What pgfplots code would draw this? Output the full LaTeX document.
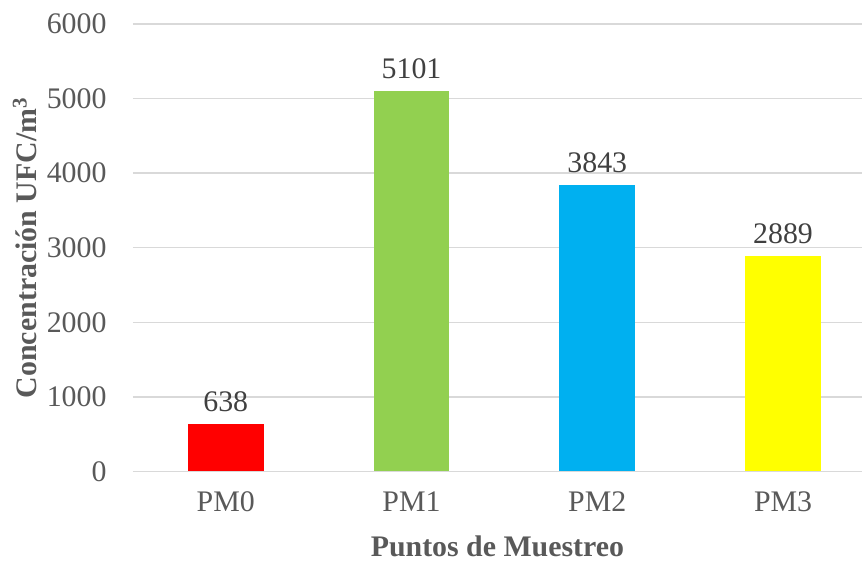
\documentclass[border=0pt]{standalone}
\usepackage{pgfplots}
\pgfplotsset{compat=1.18}
\usepackage{fontspec}
\setmainfont{Liberation Serif}
\definecolor{gridgray}{HTML}{D9D9D9}
\definecolor{ticktext}{HTML}{595959}
\definecolor{valtext}{HTML}{404040}
\definecolor{cRed}{HTML}{FF0000}
\definecolor{cGreen}{HTML}{92D050}
\definecolor{cBlue}{HTML}{00B0F0}
\definecolor{cYellow}{HTML}{FFFF00}
\begin{document}
\fontsize{15}{18}\selectfont
\begin{tikzpicture}
\begin{axis}[
  at={(0,0)}, anchor=south west,
  scale only axis,
  width=365bp, height=224bp,
  xmin=-0.5, xmax=3.425,
  ymin=0, ymax=6000,
  ytick={0,1000,...,6000},
  xtick={0,1,2,3},
  xticklabels={PM0,PM1,PM2,PM3},
  axis line style={draw=none},
  axis x line*=bottom,
  axis y line*=left,
  major tick length=0pt,
  ymajorgrids,
  grid style={gridgray, line width=0.75bp},
  /pgf/number format/assume math mode=true,
  /pgf/number format/set thousands separator={},
  tick label style={font=\fontsize{15}{18}\selectfont, text=ticktext},
  yticklabel style={xshift=-8bp},
  xticklabel style={yshift=-5bp},
  ylabel={\textbf{Concentración UFC/m\textsuperscript{3}}},
  xlabel={\textbf{Puntos de Muestreo}},
  label style={font=\fontsize{15}{18}\selectfont, text=ticktext},
  ylabel style={at={(rel axis cs:0,0.5)}, anchor=center, yshift=54bp},
  xlabel style={yshift=-2bp},
  ybar, bar width=38bp, bar shift=0pt,
  nodes near coords,
  every node near coord/.append style={font=\fontsize{15}{18}\selectfont, text=valtext, yshift=1bp},
  clip=false,
]
\addplot[fill=cRed, draw=none] coordinates {(0,638)};
\addplot[fill=cGreen, draw=none] coordinates {(1,5101)};
\addplot[fill=cBlue, draw=none] coordinates {(2,3843)};
\addplot[fill=cYellow, draw=none] coordinates {(3,2889)};
\end{axis}
\pgfresetboundingbox
\path[use as bounding box] (-66.5bp,-44.5bp) rectangle (365bp,236bp);
\end{tikzpicture}
\end{document}
